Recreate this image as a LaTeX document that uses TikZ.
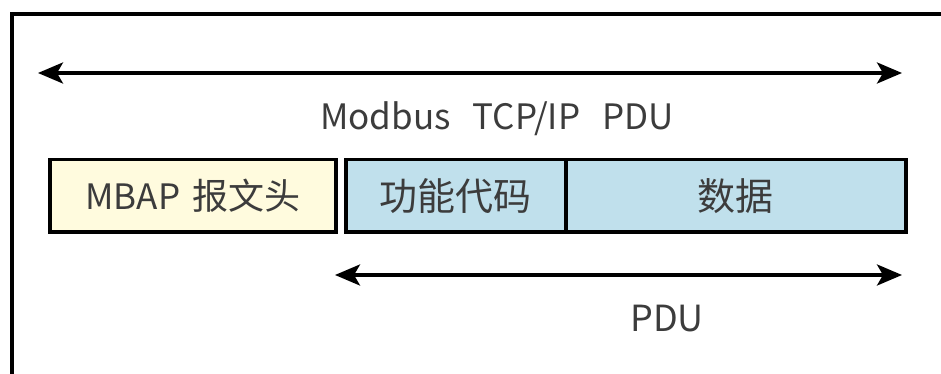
\documentclass[tikz,border=0pt]{standalone}
\usepackage{fontspec}
\setmainfont{Noto Sans CJK SC}
\usetikzlibrary{arrows.meta}
\definecolor{txt}{RGB}{60,60,60}
\definecolor{yel}{RGB}{255,251,222}
\definecolor{blu}{RGB}{192,224,236}
\newcommand{\latsz}{\fontsize{35}{35}\selectfont}
\newcommand{\cjksz}{\fontsize{38}{38}\selectfont}
\tikzset{
  field/.style={draw=black, line width=3.5pt, minimum height=72pt, inner sep=0pt, text=txt},
  dimarrow/.style={line width=3.5pt, {Stealth[length=25pt,width=21pt,inset=6pt]}-{Stealth[length=25pt,width=21pt,inset=6pt]}},
  lbl/.style={text=txt}
}
\begin{document}
\begin{tikzpicture}[x=1pt,y=-1pt]
\useasboundingbox (0,0) rectangle (941,374);
\coordinate (fl) at (12,374);
\coordinate (fc) at (12,14);
\coordinate (fr) at (941,14);
\draw[line width=4pt] (fl) -- (fc) -- (fr);
\node[field, fill=yel, minimum width=286pt, anchor=north west] (mbap) at (48,158) {{\latsz MBAP}\hspace{12pt}{\fontsize{36}{36}\selectfont 报文头}};
\node[field, fill=blu, minimum width=220pt, anchor=north west] (fc2) at (344,158) {\cjksz 功能代码};
\node[field, fill=blu, minimum width=340pt, anchor=north west] (data) at (564,158) {\cjksz 数据};
\coordinate (a1) at (38,73);
\coordinate (a2) at (902,73);
\draw[dimarrow] (a1) -- (a2);
\node[lbl, font=\latsz] (t1) at (497,119) {Modbus\hspace{22pt}TCP/IP\hspace{22pt}PDU};
\coordinate (b1) at (335,275);
\coordinate (b2) at (902,275);
\draw[dimarrow] (b1) -- (b2);
\node[lbl, font=\fontsize{36}{36}\selectfont] (t2) at (667,319) {PDU};
\end{tikzpicture}
\end{document}
